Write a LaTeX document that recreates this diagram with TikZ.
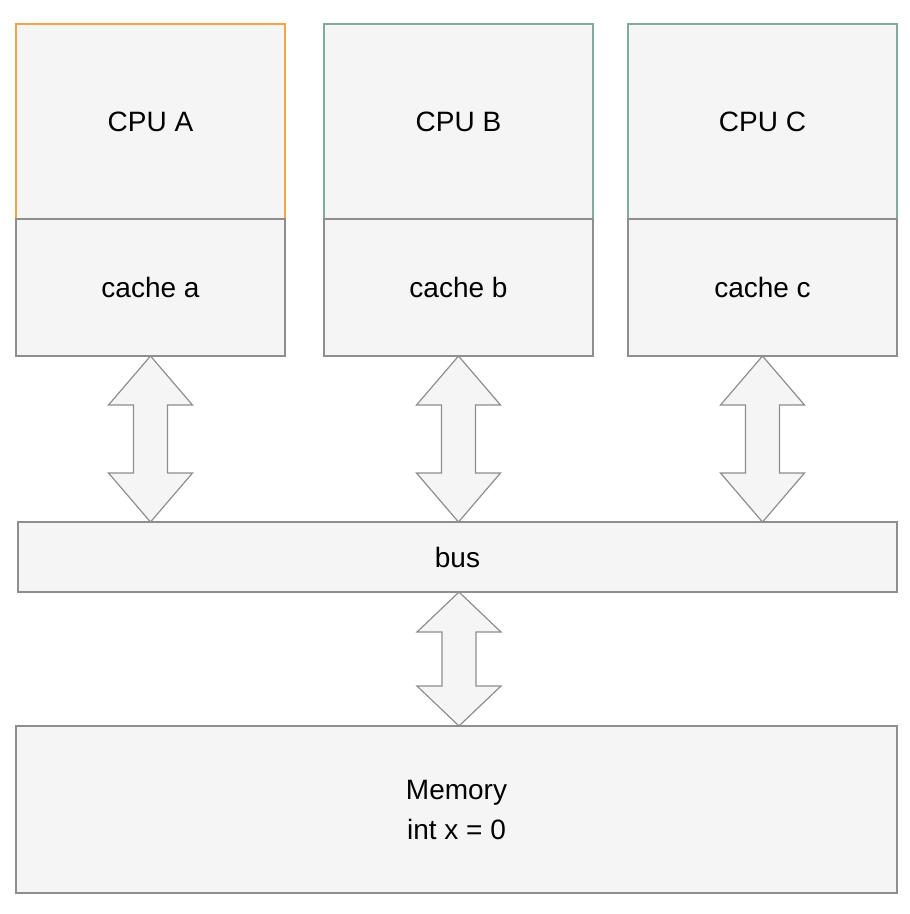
\documentclass[tikz,border=0pt]{standalone}
\usepackage{fontspec}
\setmainfont{Liberation Sans}
\usetikzlibrary{calc,positioning}
\definecolor{boxfill}{HTML}{F5F5F5}
\definecolor{boxline}{HTML}{8E8E8E}
\definecolor{cpuorange}{HTML}{F2A548}
\definecolor{cputeal}{HTML}{7EAD9C}

\tikzset{
  unit/.style={draw=boxline, fill=boxfill, line width=1.2pt, inner sep=0pt,
    outer sep=0pt, minimum width=269pt, font=\fontsize{28}{40}\selectfont, align=center},
  cpubox/.style={unit, minimum height=195pt},
  cachebox/.style={unit, minimum height=137pt},
  fatarrow/.style={draw=boxline, fill=boxfill, line width=1.2pt, line join=miter}
}

% double block arrow between two points: #1 top tip, #2 bottom tip, #3 head length
\newcommand{\fatarrow}[3]{%
  \draw[fatarrow] let \p1=#1, \p2=#2 in
    (\x1,\y1) -- (\x1+42pt,\y1-#3) -- (\x1+17pt,\y1-#3) -- (\x1+17pt,\y2+#3)
    -- (\x1+42pt,\y2+#3) -- (\x1,\y2) -- (\x1-42pt,\y2+#3) -- (\x1-17pt,\y2+#3)
    -- (\x1-17pt,\y1-#3) -- (\x1-42pt,\y1-#3) -- cycle;}

\begin{document}
\begin{tikzpicture}[x=1pt, y=-1pt]
    \useasboundingbox (0,0) rectangle (910,914);

    % CPUs and their caches
    \node[cpubox, draw=cpuorange, anchor=north west] (cpuA) at (16,24) {CPU A};
    \node[cachebox, below=0pt of cpuA] (cacheA) {cache a};
    \node[cpubox, draw=cputeal, anchor=north west] (cpuB) at (324,24) {CPU B};
    \node[cachebox, below=0pt of cpuB] (cacheB) {cache b};
    \node[cpubox, draw=cputeal, anchor=north west] (cpuC) at (628,24) {CPU C};
    \node[cachebox, below=0pt of cpuC] (cacheC) {cache c};

    % bus and memory
    \node[unit, anchor=north west, minimum width=879pt, minimum height=70pt] (bus) at (18,522) {bus};
    \node[unit, anchor=north west, minimum width=881pt, minimum height=167pt] (mem) at (16,726)
        {Memory\\int x = 0};

    % arrows
    \fatarrow{(cacheA.south)}{(cacheA.south |- bus.north)}{49pt}
    \fatarrow{(cacheB.south)}{(cacheB.south |- bus.north)}{49pt}
    \fatarrow{(cacheC.south)}{(cacheC.south |- bus.north)}{49pt}
    \fatarrow{($(bus.south)+(1.5,0)$)}{($(bus.south |- mem.north)+(1.5,0)$)}{40pt}
\end{tikzpicture}
\end{document}
